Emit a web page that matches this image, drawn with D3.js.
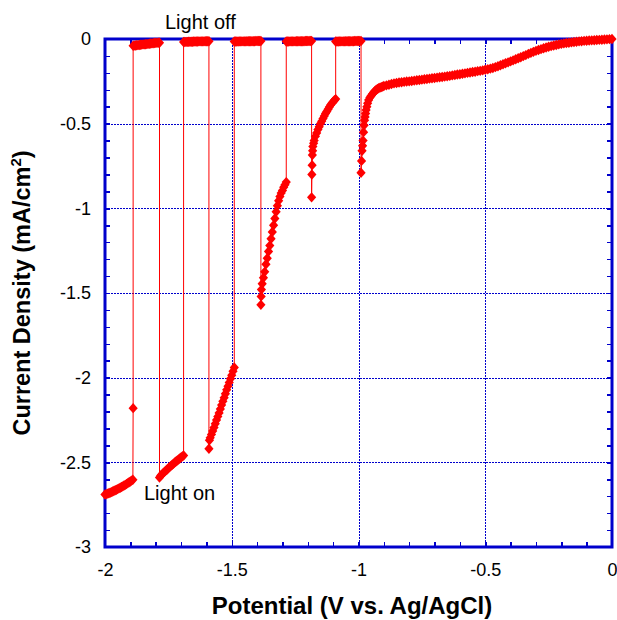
<!DOCTYPE html>
<html>
<head>
<meta charset="utf-8">
<script src="https://cdn.jsdelivr.net/npm/d3@7"></script>
<style>
  html, body { margin: 0; padding: 0; background: #fff; }
  svg { display: block; font-family: "Liberation Sans", Arial, sans-serif; }
  .tick line { shape-rendering: crispEdges; }
</style>
</head>
<body>
<svg id="chart" width="617" height="620"></svg>
<script>
'use strict';

// axis ticks
const xTickValues = [-2, -1.5, -1, -0.5, 0];
const yTickValues = [0, -0.5, -1, -1.5, -2, -2.5, -3];

// chopped-light scan, in scan order (V, mA/cm2)
const on1Potential = [-2.000, -1.995, -1.990, -1.985, -1.980, -1.975, -1.970, -1.965, -1.960, -1.955, -1.950, -1.945,
    -1.940, -1.935, -1.930, -1.925, -1.920, -1.915, -1.910, -1.905, -1.900, -1.895, -1.890, -1.889];
const on1Current = [-2.690, -2.688, -2.685, -2.683, -2.680, -2.676, -2.672, -2.669, -2.665, -2.662, -2.658, -2.654,
    -2.650, -2.646, -2.642, -2.637, -2.633, -2.628, -2.623, -2.618, -2.613, -2.608, -2.603, -2.180];

const off1Potential = [-1.889, -1.885, -1.880, -1.875, -1.870, -1.865, -1.860, -1.855, -1.850, -1.845, -1.840,
    -1.835, -1.830, -1.825, -1.820, -1.815, -1.810, -1.805, -1.800, -1.795, -1.790, -1.785];
const off1Current = [-0.040, -0.039, -0.038, -0.037, -0.036, -0.035, -0.034, -0.033, -0.032, -0.032, -0.031,
    -0.030, -0.029, -0.028, -0.027, -0.026, -0.025, -0.024, -0.023, -0.023, -0.022, -0.022];

const on2Potential = [-1.785, -1.780, -1.775, -1.770, -1.765, -1.760, -1.755, -1.750, -1.745, -1.740,
    -1.735, -1.730, -1.725, -1.720, -1.715, -1.710, -1.705, -1.700, -1.695, -1.690];
const on2Current = [-2.590, -2.578, -2.571, -2.563, -2.556, -2.549, -2.542, -2.535, -2.528, -2.521,
    -2.514, -2.508, -2.501, -2.495, -2.489, -2.483, -2.477, -2.471, -2.465, -2.460];

const off2Potential = [-1.690, -1.685, -1.680, -1.675, -1.670, -1.665, -1.660, -1.655, -1.650, -1.645, -1.640,
    -1.635, -1.630, -1.625, -1.620, -1.615, -1.610, -1.605, -1.600, -1.595, -1.590];
const off2Current = [-0.018, -0.018, -0.017, -0.017, -0.016, -0.016, -0.016, -0.016, -0.015, -0.015, -0.015,
    -0.015, -0.014, -0.014, -0.014, -0.014, -0.014, -0.013, -0.013, -0.013, -0.013];

const on3Potential = [-1.590, -1.588, -1.585, -1.580, -1.575, -1.570, -1.565, -1.560, -1.555, -1.550, -1.545,
    -1.540, -1.535, -1.530, -1.525, -1.520, -1.515, -1.510, -1.505, -1.500, -1.495, -1.490];
const on3Current = [-2.420, -2.370, -2.355, -2.335, -2.315, -2.295, -2.272, -2.250, -2.230, -2.208, -2.185,
    -2.162, -2.140, -2.118, -2.095, -2.072, -2.050, -2.028, -2.006, -1.985, -1.962, -1.940];

const off3Potential = [-1.490, -1.485, -1.480, -1.475, -1.470, -1.465, -1.460, -1.455, -1.450, -1.445, -1.440,
    -1.435, -1.430, -1.425, -1.420, -1.415, -1.410, -1.405, -1.400, -1.395, -1.390, -1.385];
const off3Current = [-0.015, -0.015, -0.015, -0.015, -0.014, -0.014, -0.014, -0.014, -0.014, -0.014, -0.013,
    -0.013, -0.013, -0.013, -0.013, -0.013, -0.013, -0.012, -0.012, -0.012, -0.012, -0.012];

const on4Potential = [-1.385, -1.384, -1.383, -1.380, -1.375, -1.370, -1.365, -1.360, -1.355, -1.350, -1.345,
    -1.340, -1.335, -1.330, -1.325, -1.320, -1.315, -1.310, -1.305, -1.300, -1.295, -1.290, -1.285];
const on4Current = [-1.570, -1.520, -1.480, -1.445, -1.410, -1.375, -1.330, -1.295, -1.255, -1.220, -1.180,
    -1.140, -1.100, -1.060, -1.020, -0.985, -0.955, -0.930, -0.910, -0.895, -0.875, -0.860, -0.845];

const off4Potential = [-1.285, -1.280, -1.275, -1.270, -1.265, -1.260, -1.255, -1.250, -1.245, -1.240, -1.235,
    -1.230, -1.225, -1.220, -1.215, -1.210, -1.205, -1.200, -1.195, -1.190, -1.185];
const off4Current = [-0.015, -0.015, -0.015, -0.014, -0.014, -0.014, -0.014, -0.014, -0.013, -0.013, -0.013,
    -0.013, -0.013, -0.013, -0.013, -0.012, -0.012, -0.012, -0.012, -0.012, -0.012];

const on5Potential = [-1.185, -1.184, -1.183, -1.182, -1.181, -1.180, -1.177, -1.175, -1.170, -1.165, -1.160,
    -1.155, -1.150, -1.145, -1.140, -1.135, -1.130, -1.125, -1.120, -1.115, -1.110, -1.105, -1.100, -1.095, -1.090];
const on5Current = [-0.935, -0.800, -0.745, -0.685, -0.660, -0.635, -0.615, -0.600, -0.575, -0.555, -0.535,
    -0.518, -0.500, -0.485, -0.470, -0.455, -0.440, -0.428, -0.415, -0.402, -0.390, -0.380, -0.370, -0.362, -0.355];

const off5Potential = [-1.090, -1.085, -1.080, -1.075, -1.070, -1.065, -1.060, -1.055, -1.050, -1.045, -1.040,
    -1.035, -1.030, -1.025, -1.020, -1.015, -1.010, -1.005, -1.000, -0.995, -0.990];
const off5Current = [-0.015, -0.015, -0.015, -0.014, -0.014, -0.014, -0.014, -0.014, -0.013, -0.013, -0.013,
    -0.013, -0.013, -0.013, -0.013, -0.012, -0.012, -0.012, -0.012, -0.012, -0.012];

const on6Potential = [-0.990, -0.988, -0.986, -0.984, -0.982, -0.980, -0.978, -0.976, -0.974, -0.972, -0.970,
    -0.967, -0.964, -0.960, -0.955, -0.950, -0.945, -0.940, -0.935, -0.930, -0.925, -0.920, -0.915, -0.910,
    -0.905, -0.900, -0.890, -0.880, -0.870, -0.860, -0.850, -0.840, -0.830, -0.820, -0.810, -0.800, -0.790,
    -0.780, -0.770, -0.760, -0.750, -0.740, -0.730, -0.720, -0.710, -0.700, -0.690, -0.680, -0.670, -0.660,
    -0.650, -0.640, -0.630, -0.620, -0.610, -0.600, -0.590, -0.580, -0.570, -0.560, -0.550, -0.540, -0.530,
    -0.520, -0.510, -0.500, -0.490, -0.480, -0.470, -0.460, -0.450, -0.440, -0.430, -0.420, -0.410, -0.400,
    -0.390, -0.380, -0.370, -0.360, -0.350, -0.340, -0.330, -0.320, -0.310, -0.300, -0.290, -0.280, -0.270,
    -0.260, -0.250, -0.240, -0.230, -0.220, -0.210, -0.200, -0.190, -0.180, -0.170, -0.160, -0.150, -0.140,
    -0.130, -0.120, -0.110, -0.100, -0.090, -0.080, -0.070, -0.060, -0.050, -0.040, -0.030, -0.020, -0.010, 0.000];
const on6Current = [-0.790, -0.720, -0.660, -0.630, -0.600, -0.550, -0.510, -0.480, -0.460, -0.440, -0.420,
    -0.400, -0.380, -0.360, -0.345, -0.335, -0.325, -0.315, -0.307, -0.300, -0.295, -0.290, -0.287, -0.284,
    -0.281, -0.278, -0.274, -0.270, -0.266, -0.262, -0.260, -0.257, -0.255, -0.253, -0.251, -0.250, -0.248,
    -0.246, -0.244, -0.242, -0.240, -0.238, -0.236, -0.234, -0.232, -0.230, -0.228, -0.226, -0.224, -0.222,
    -0.220, -0.218, -0.215, -0.213, -0.210, -0.208, -0.205, -0.203, -0.200, -0.198, -0.195, -0.193, -0.190,
    -0.188, -0.185, -0.182, -0.179, -0.175, -0.171, -0.166, -0.161, -0.155, -0.149, -0.143, -0.138, -0.132,
    -0.126, -0.120, -0.114, -0.108, -0.101, -0.095, -0.088, -0.082, -0.076, -0.070, -0.065, -0.060, -0.055,
    -0.050, -0.046, -0.042, -0.038, -0.035, -0.032, -0.029, -0.026, -0.024, -0.022, -0.020, -0.018, -0.016,
    -0.014, -0.013, -0.011, -0.010, -0.009, -0.008, -0.007, -0.006, -0.005, -0.004, -0.003, -0.002, -0.001, 0.000];

const segments = [
    [on1Potential, on1Current], [off1Potential, off1Current],
    [on2Potential, on2Current], [off2Potential, off2Current],
    [on3Potential, on3Current], [off3Potential, off3Current],
    [on4Potential, on4Current], [off4Potential, off4Current],
    [on5Potential, on5Current], [off5Potential, off5Current],
    [on6Potential, on6Current]
];

const points = [];
segments.forEach(([pot, cur]) => {
    pot.forEach((p, i) => points.push({ v: p, j: cur[i] }));
});

// layout
const margin = { top: 39, left: 105 };
const width = 507, height = 508;
const blue = "#0000cc";
const red = "#ff0000";
const font = '"Liberation Sans", Arial, sans-serif';

const svg = d3.select("#chart");
const g = svg.append("g").attr("transform", `translate(${margin.left},${margin.top})`);

const x = d3.scaleLinear().domain([-2, 0]).range([0, width]);
const y = d3.scaleLinear().domain([-3, 0]).range([height, 0]);

// dotted grid at major ticks
g.append("g")
    .attr("class", "grid")
    .call(d3.axisBottom(x).tickValues(xTickValues).tickSize(height).tickFormat(""))
    .call(s => s.select(".domain").remove())
    .selectAll("line")
    .attr("stroke", blue).attr("stroke-width", 1).attr("stroke-dasharray", "2,1");

g.append("g")
    .attr("class", "grid")
    .call(d3.axisRight(y).tickValues(yTickValues).tickSize(width).tickFormat(""))
    .call(s => s.select(".domain").remove())
    .selectAll("line")
    .attr("stroke", blue).attr("stroke-width", 1).attr("stroke-dasharray", "2,1");

// minor ticks on all four sides, pointing inwards
const xMinor = d3.ticks(-2, 0, 20);
const yMinor = d3.ticks(-3, 0, 30);
function minorTicks(axis, transform) {
    g.append("g")
        .attr("transform", transform)
        .call(axis.tickSize(-5).tickFormat(""))
        .call(s => s.select(".domain").remove())
        .selectAll("line")
        .attr("stroke", blue).attr("stroke-width", 1.5);
}
minorTicks(d3.axisBottom(x).tickValues(xMinor), `translate(0,${height})`);
minorTicks(d3.axisTop(x).tickValues(xMinor), "translate(0,0)");
minorTicks(d3.axisLeft(y).tickValues(yMinor), "translate(0,0)");
minorTicks(d3.axisRight(y).tickValues(yMinor), `translate(${width},0)`);

// frame
g.append("rect")
    .attr("width", width).attr("height", height)
    .attr("fill", "none").attr("stroke", blue).attr("stroke-width", 3);

// tick labels
g.append("g")
    .attr("transform", `translate(0,${height})`)
    .call(d3.axisBottom(x).tickValues(xTickValues).tickSize(0).tickPadding(16).tickFormat(d => String(d)))
    .call(s => s.select(".domain").remove())
    .selectAll("text")
    .attr("font-family", font).attr("font-size", 18).attr("fill", "#000");

g.append("g")
    .call(d3.axisLeft(y).tickValues(yTickValues).tickSize(0).tickPadding(14).tickFormat(d => String(d)))
    .call(s => s.select(".domain").remove())
    .selectAll("text")
    .attr("font-family", font).attr("font-size", 18).attr("fill", "#000");

// data: thin connecting line + diamond markers
const line = d3.line().x(d => x(d.v)).y(d => y(d.j));
g.append("path")
    .datum(points)
    .attr("d", line)
    .attr("fill", "none")
    .attr("stroke", red)
    .attr("stroke-width", 1);

const diamond = "M0,-5.2L4.6,0L0,5.2L-4.6,0Z";
g.append("g")
    .selectAll("path")
    .data(points)
    .enter()
    .append("path")
    .attr("d", diamond)
    .attr("transform", d => `translate(${x(d.v)},${y(d.j)})`)
    .attr("fill", red);

// annotations
svg.append("text")
    .attr("x", 165).attr("y", 29)
    .attr("font-family", font).attr("font-size", 20)
    .text("Light off");

svg.append("text")
    .attr("x", 144).attr("y", 500)
    .attr("font-family", font).attr("font-size", 20)
    .text("Light on");

// axis titles
svg.append("text")
    .attr("x", 352).attr("y", 614)
    .attr("text-anchor", "middle")
    .attr("font-family", font).attr("font-size", 24).attr("font-weight", "bold")
    .text("Potential (V vs. Ag/AgCl)");

const yTitle = svg.append("text")
    .attr("transform", "translate(30,293) rotate(-90)")
    .attr("text-anchor", "middle")
    .attr("font-family", font).attr("font-size", 23.5).attr("font-weight", "bold");
yTitle.append("tspan").text("Current Density (mA/cm");
yTitle.append("tspan").attr("font-size", 15).attr("dy", -9).text("2");
yTitle.append("tspan").attr("dy", 9).text(")");
</script>
</body>
</html>
